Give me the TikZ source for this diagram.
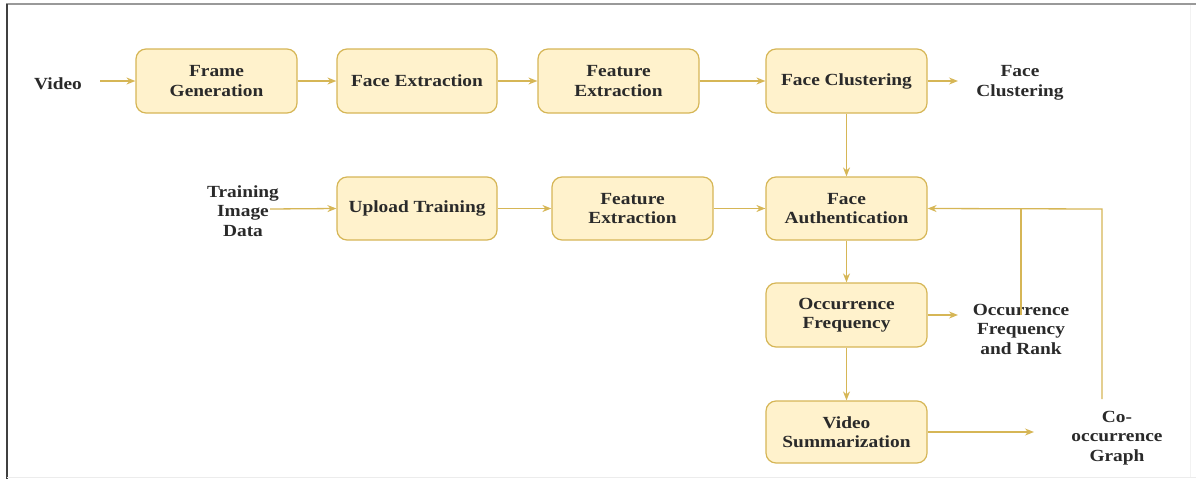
\documentclass[tikz,border=0pt]{standalone}
\usepackage{fontspec}
\setmainfont{Liberation Serif}[FakeStretch=1.14]
\usetikzlibrary{arrows.meta}
\definecolor{boxfill}{HTML}{FFF2CC}
\definecolor{boxline}{HTML}{D6B656}
\definecolor{txt}{HTML}{2A2A2A}
\tikzset{
  box/.style={rectangle, rounded corners=10pt, fill=boxfill, draw=boxline, line width=1.2pt,
    minimum width=161pt, minimum height=64pt, align=center, inner sep=2pt,
    font=\fontsize{17}{19.5}\selectfont\bfseries, text=txt},
  lbl/.style={align=center, inner sep=0pt, font=\fontsize{17}{19.5}\selectfont\bfseries, text=txt},
  arr/.style={draw=boxline, line width=1.3pt, -{Stealth[length=9pt,width=7pt]}},
  ln/.style={draw=boxline, line width=1.3pt}
}
\begin{document}
\begin{tikzpicture}[x=1pt,y=-1pt]
\useasboundingbox (0,0) rectangle (1196,479);
% frame
\draw[gray!80, line width=1.5pt] (6,4) -- (1196,4);
\draw[black!75, line width=2pt] (7,4) -- (7,479);
\draw[gray!15, line width=1pt] (7,477) -- (1196,477);
\draw[gray!10, line width=1pt] (1190,5) -- (1190,477);
% boxes
\node[box] (fg) at (216.5,81) {Frame\\Generation};
\node[box, minimum width=160pt] (fe) at (417,81) {Face Extraction};
\node[box] (fx1) at (618.5,81) {Feature\\Extraction};
\node[box] (fc) at (846.5,81) {Face Clustering};
\node[box, minimum width=160pt, minimum height=63pt] (ut) at (417,208.5) {Upload Training};
\node[box, minimum height=63pt] (fx2) at (632.5,208.5) {Feature\\Extraction};
\node[box, minimum height=63pt] (fa) at (846.5,208.5) {Face\\Authentication};
\node[box] (of) at (846.5,315) {Occurrence\\Frequency};
\node[box, minimum height=62pt] (vs) at (846.5,432) {Video\\Summarization};
% labels
\node[lbl] (video) at (58,84) {Video};
\node[lbl] (tid) at (243,211) {Training\\Image\\Data};
\node[lbl] (fcout) at (1020,83) {Face\\Clustering};
\node[lbl] (ofr) at (1021,329) {Occurrence\\Frequency\\and Rank};
\node[lbl] (cog) at (1117,438) {Co-\\occurrence\\Graph};
% coordinates
\coordinate (vstart) at (100,81);
\coordinate (tstart) at (270,209);
\coordinate (fcend) at (958,81);
\coordinate (ofend) at (958,315);
\coordinate (vsend) at (1034,432);
\coordinate (fb1) at (1021,315);
\coordinate (fb2) at (1102,399);
\coordinate (fbtop1) at (1021,209);
\coordinate (fbtop2) at (1102,209);
% connectors
\draw[arr] (vstart) -- (fg.west);
\draw[arr] (fg.east) -- (fe.west);
\draw[arr] (fe.east) -- (fx1.west);
\draw[arr] (fx1.east) -- (fc.west);
\draw[arr] (fc.east) -- (fcend);
\draw[arr] (tstart) -- (ut.west);
\draw[arr] (ut.east) -- (fx2.west);
\draw[arr] (fx2.east) -- (fa.west);
\draw[arr] (fc.south) -- (fa.north);
\draw[arr] (fa.south) -- (of.north);
\draw[arr] (of.south) -- (vs.north);
\draw[arr] (of.east) -- (ofend);
\draw[arr] (vs.east) -- (vsend);
\draw[ln] (fb1) -- (fbtop1);
\draw[arr] (fb2) -- (fbtop2) -- (fa.east);
\end{tikzpicture}
\end{document}
